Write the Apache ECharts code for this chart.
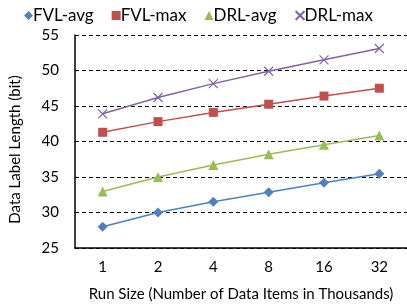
<!DOCTYPE html>
<html>
<head>
<meta charset="utf-8">
<script src="https://cdn.jsdelivr.net/npm/echarts@6/dist/echarts.min.js"></script>
<style>
  html, body { margin: 0; padding: 0; background: #fff; }
  #chart { width: 407px; height: 307px; }
</style>
</head>
<body>
<div id="chart"></div>
<script>
const runSizes = ['1', '2', '4', '8', '16', '32'];
const fvlAvg = [28.0, 30.0, 31.5, 32.85, 34.2, 35.45];
const fvlMax = [41.3, 42.8, 44.1, 45.25, 46.4, 47.5];
const drlAvg = [32.95, 35.0, 36.7, 38.2, 39.55, 40.85];
const drlMax = [43.9, 46.2, 48.15, 49.9, 51.5, 53.1];

const FONT = 'Lato';
const crossPath = 'path://M0,0L10,10M10,0L0,10';

const chart = echarts.init(document.getElementById('chart'));

const mk = (name, data, color, symbol, size, extra) => ({
  name: name,
  type: 'line',
  data: data,
  symbol: symbol,
  symbolSize: size,
  showAllSymbol: true,
  lineStyle: { color: color, width: 1.5 },
  itemStyle: Object.assign({ color: color }, extra || {}),
  emphasis: { disabled: true }
});

chart.setOption({
  animation: false,
  textStyle: { fontFamily: FONT },
  legend: {
    top: 2,
    left: 19,
    itemGap: 18,
    itemWidth: 9,
    itemHeight: 9,
    textStyle: { fontFamily: FONT, fontSize: 17, color: '#000', padding: [0, 0, 0, -5] },
    data: [
      { name: 'FVL-avg', icon: 'diamond' },
      { name: 'FVL-max', icon: 'rect' },
      { name: 'DRL-avg', icon: 'triangle' },
      { name: 'DRL-max', icon: crossPath }
    ]
  },
  grid: { left: 73, right: -2, top: 35, bottom: 54 },
  xAxis: {
    type: 'category',
    data: runSizes,
    name: 'Run Size (Number of Data Items in Thousands)',
    nameLocation: 'middle',
    nameGap: 39,
    nameTextStyle: { fontFamily: FONT, fontSize: 15, color: '#000' },
    axisLine: { lineStyle: { color: '#000', width: 1.5 } },
    axisTick: { inside: true, length: 5, lineStyle: { color: '#000' } },
    axisLabel: { fontFamily: FONT, fontSize: 15, color: '#000', margin: 12 }
  },
  yAxis: {
    type: 'value',
    min: 25,
    max: 55,
    interval: 5,
    name: 'Data Label Length (bit)',
    nameLocation: 'middle',
    nameGap: 52,
    nameTextStyle: { fontFamily: FONT, fontSize: 15, color: '#000', padding: [0, 16, 0, 0] },
    axisLine: { show: true, lineStyle: { color: '#000', width: 1.5 } },
    axisTick: { show: false },
    axisLabel: { fontFamily: FONT, fontSize: 15, color: '#000', margin: 16 },
    splitLine: { lineStyle: { color: '#000', type: [4, 3], width: 1 } }
  },
  series: [
    mk('FVL-avg', fvlAvg, '#4F81BD', 'diamond', 10),
    mk('FVL-max', fvlMax, '#C0504D', 'rect', 9),
    mk('DRL-avg', drlAvg, '#9BBB59', 'triangle', 10),
    mk('DRL-max', drlMax, '#8064A2', crossPath, 9, { borderColor: '#8064A2', borderWidth: 1.2 })
  ]
});
</script>
</body>
</html>
